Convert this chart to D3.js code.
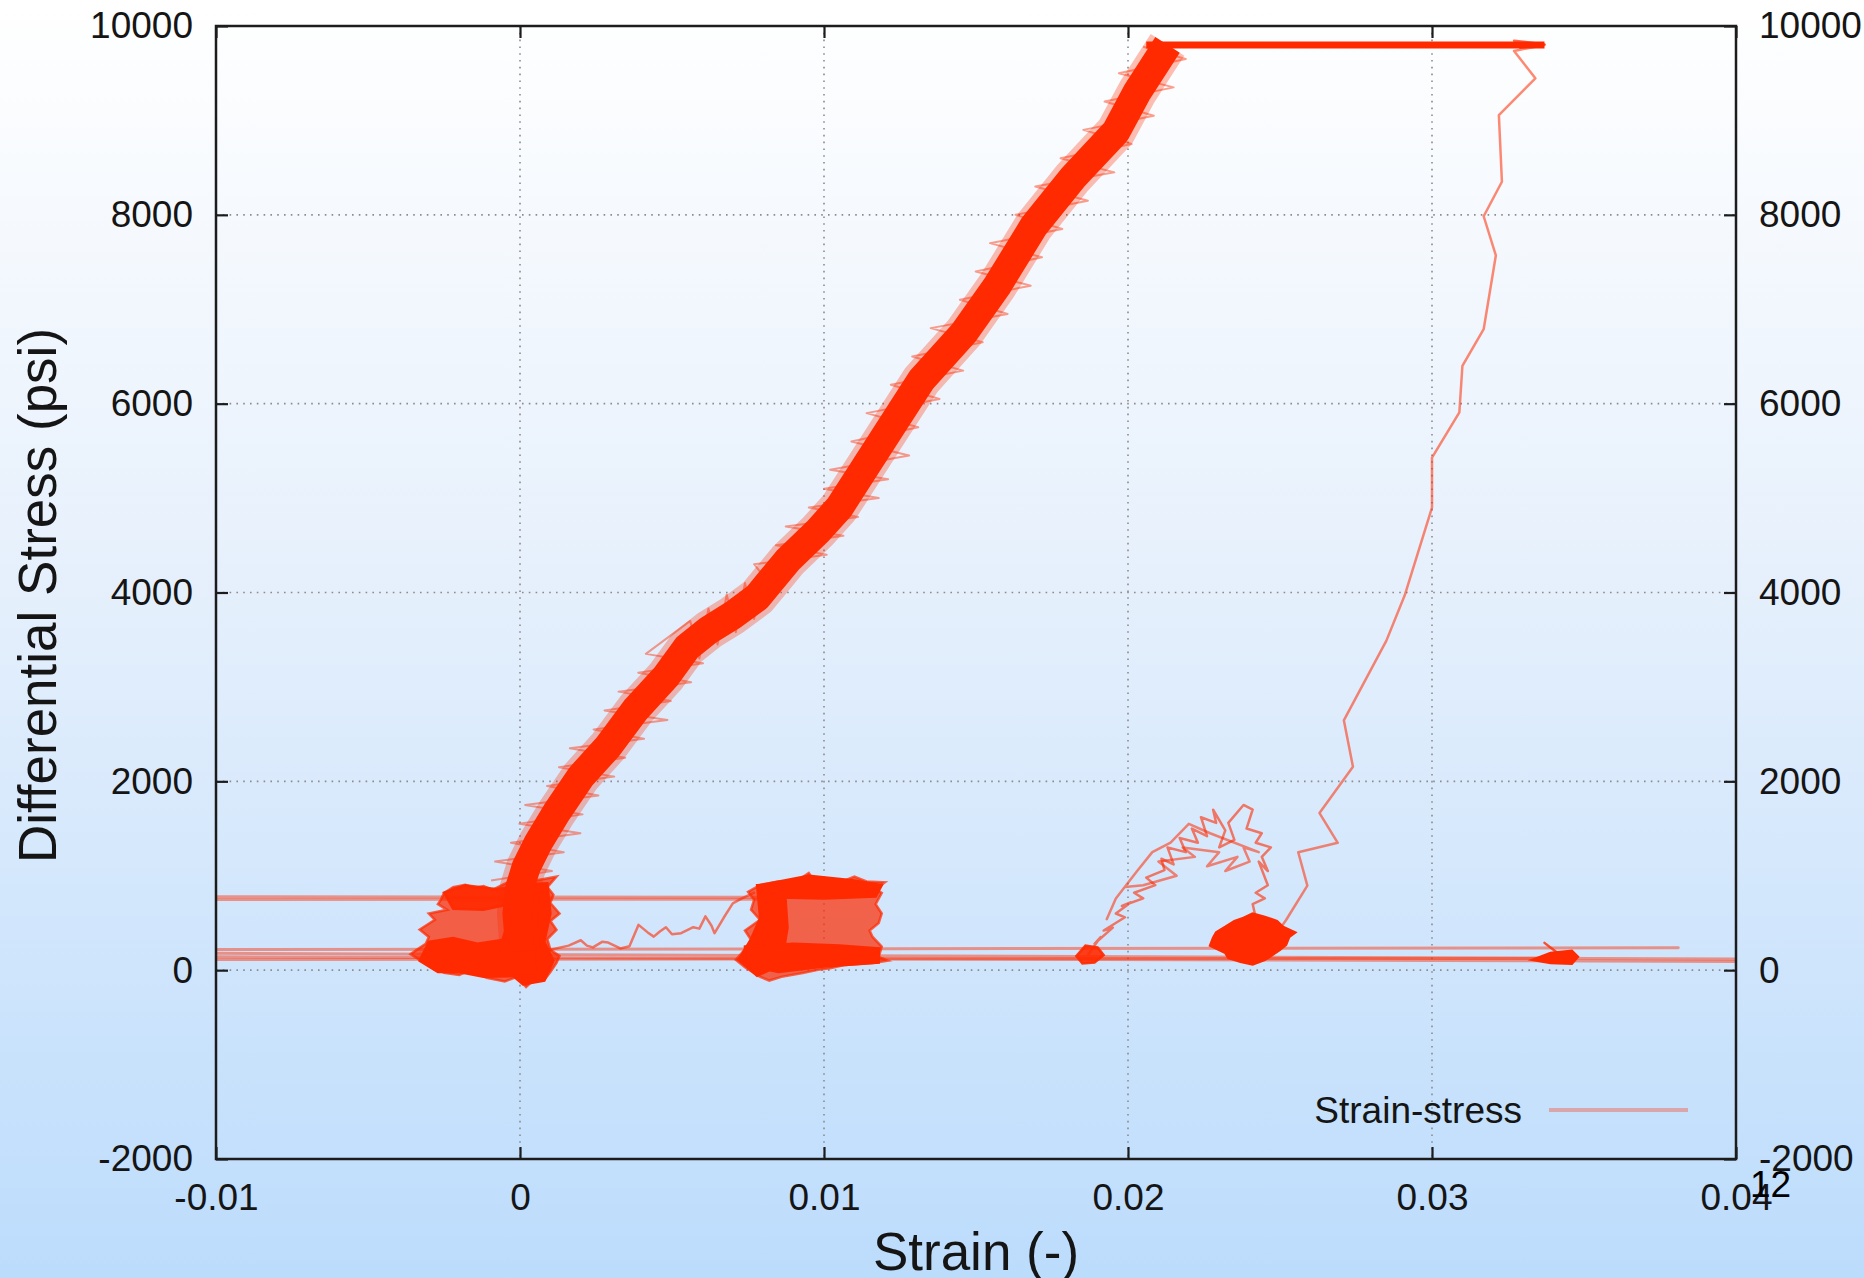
<!DOCTYPE html>
<html>
<head>
<meta charset="utf-8">
<script src="https://cdn.jsdelivr.net/npm/d3@7"></script>
<style>
html, body { margin: 0; padding: 0; }
body { width: 1864px; height: 1278px; overflow: hidden; }
text { font-family: "Liberation Sans", Arial, Helvetica, sans-serif; fill: #151515; }
</style>
</head>
<body>
<svg id="chart" width="1864" height="1278"></svg>
<script>
// axis ticks
const xTicks = [-0.01, 0, 0.01, 0.02, 0.03, 0.04];
const xTickLabels = ['-0.01', '0', '0.01', '0.02', '0.03', '0.04'];
const yTicks = [-2000, 0, 2000, 4000, 6000, 8000, 10000];
const yTickLabels = ['-2000', '0', '2000', '4000', '6000', '8000', '10000'];

// strain (-), differential stress (psi)
const loadingCurve = [[0.0000, 200], [-0.0001, 600], [0.0000, 880], [0.0002, 1090], [0.0006, 1350], [0.0012, 1670],
    [0.0020, 2050], [0.0029, 2370], [0.0038, 2760], [0.0048, 3110], [0.0055, 3420], [0.0062, 3600], [0.0070, 3760],
    [0.0078, 3950], [0.0088, 4340], [0.0098, 4650], [0.0105, 4900], [0.0112, 5250], [0.0122, 5750], [0.0132, 6250],
    [0.0146, 6750], [0.0157, 7250], [0.0169, 7880], [0.0182, 8400], [0.0196, 8880], [0.0203, 9300], [0.0210, 9650],
    [0.0213, 9800]];
// the noisy scatter of the same loading trace around its centre
const loadingNoise = [[-0.00095, 950], [0.00105, 1050], [-0.00082, 1150], [0.00144, 1250], [-0.0003, 1350],
    [0.00199, 1450], [-0.00002, 1550], [0.00206, 1650], [0.00017, 1750], [0.00258, 1850], [0.00089, 1950],
    [0.0031, 2050], [0.00128, 2150], [0.00346, 2250], [0.00164, 2350], [0.00408, 2450], [0.00242, 2550],
    [0.00485, 2650], [0.00278, 2750], [0.00496, 2850], [0.00324, 2950], [0.00563, 3050], [0.00389, 3150],
    [0.00602, 3250], [0.00414, 3350], [0.0056, 3700], [0.0059, 3300], [0.0062, 3830], [0.0065, 3450],
    [0.0068, 3980], [0.0071, 3580], [0.0074, 4100], [0.0077, 3720], [0.0080, 4180], [0.0077, 4300],
    [0.01009, 4400], [0.00842, 4500], [0.01064, 4600], [0.00874, 4700], [0.01112, 4800], [0.0095, 4900],
    [0.0118, 5000], [0.0100, 5100], [0.01211, 5200], [0.0102, 5300], [0.0128, 5450], [0.0109, 5600],
    [0.0131, 5750], [0.0114, 5900], [0.0138, 6050], [0.0122, 6200], [0.01458, 6350], [0.0129, 6500],
    [0.01522, 6650], [0.01351, 6800], [0.01604, 6950], [0.01447, 7100], [0.0168, 7250], [0.01499, 7400],
    [0.01717, 7550], [0.01546, 7700], [0.01784, 7850], [0.0163, 8000], [0.01868, 8150], [0.01695, 8300],
    [0.01955, 8450], [0.01778, 8600], [0.02012, 8750], [0.01853, 8900], [0.02085, 9050], [0.01923, 9200],
    [0.0215, 9350], [0.0197, 9500], [0.0219, 9650], [0.0205, 9780]];
const plateau = [[0.0206, 9800], [0.0337, 9800]];
const plateauHook = [[0.0327, 9845], [0.0337, 9805], [0.0329, 9770]];
const unloadCurve = [[0.0337, 9799], [0.0327, 9736], [0.0334, 9446], [0.0322, 9056], [0.0323, 8350], [0.0317, 7985],
    [0.0321, 7570], [0.0317, 6789], [0.0310, 6399], [0.0309, 5908], [0.0300, 5429], [0.0300, 4900], [0.0291, 3968],
    [0.0285, 3490], [0.0271, 2646], [0.0274, 2155], [0.0263, 1664], [0.0269, 1349], [0.0256, 1249], [0.0259, 896],
    [0.0252, 531], [0.0249, 392]];
const upperReturnA = [[-0.01, 778], [0.0082, 772]];
const upperReturnB = [[-0.01, 748], [0.0080, 752]];
const bundleA = [[-0.01, 218], [0.0381, 238]];
const bundleB = [[-0.01, 178], [0.04, 118]];
const bundleC = [[-0.01, 142], [0.04, 92]];
const bundleD = [[-0.01, 112], [0.0345, 128]];
const wanderPath = [[0.0010, 216], [0.0016, 260], [0.0020, 317], [0.0022, 260], [0.0024, 241], [0.0027, 300],
    [0.0029, 292], [0.0033, 230], [0.0036, 254], [0.0039, 480], [0.0042, 400], [0.0044, 355], [0.0046, 410],
    [0.0048, 455], [0.0050, 380], [0.0053, 392], [0.0057, 455], [0.0059, 440], [0.0061, 570], [0.0063, 470],
    [0.0064, 392], [0.0067, 555], [0.0070, 707], [0.0073, 760], [0.0077, 820]];
const humpPath = [[0.0187, 170], [0.0191, 350], [0.0189, 280], [0.0195, 450], [0.0192, 420], [0.0199, 560],
    [0.0196, 600], [0.0201, 720], [0.0198, 680], [0.0205, 760], [0.0202, 820], [0.0209, 900], [0.0206, 980],
    [0.0212, 1060], [0.0211, 1180], [0.0215, 1120], [0.0213, 1300], [0.0219, 1250], [0.0217, 1400], [0.0223, 1350],
    [0.0221, 1500], [0.0226, 1420], [0.0224, 1620], [0.0229, 1560], [0.0228, 1700], [0.0232, 1480], [0.0230, 1300],
    [0.0235, 1380], [0.0233, 1560], [0.0238, 1750], [0.0241, 1700], [0.0239, 1500], [0.0244, 1450], [0.0242, 1350],
    [0.0247, 1300], [0.0244, 1200], [0.0246, 1050], [0.0243, 1150], [0.0246, 900], [0.0242, 820], [0.0245, 760],
    [0.0241, 700], [0.0242, 560]];
const humpPath2 = [[0.0199, 880], [0.0205, 900], [0.0216, 1000], [0.0210, 1150], [0.0222, 1200], [0.0218, 1300],
    [0.0230, 1250], [0.0226, 1100], [0.0236, 1200], [0.0232, 1050], [0.0240, 1150], [0.0238, 1300], [0.0243, 1250],
    [0.0227, 1450], [0.0220, 1550], [0.0214, 1350], [0.0208, 1250], [0.0203, 1050], [0.0196, 760], [0.0193, 540]];

// blobs (outlines of dense noisy clusters)
const leftBlobOuter = [[-0.0025, 818], [-0.0022, 880], [-0.0018, 903], [-0.0015, 870], [-0.0012, 890], [-0.0009, 850],
    [-0.0006, 900], [-0.0004, 930], [-0.0001, 956], [0.0003, 920], [0.0006, 956], [0.0012, 990], [0.0009, 880],
    [0.0011, 800], [0.0010, 712], [0.0013, 600], [0.0010, 520], [0.0012, 427], [0.0009, 330], [0.0010, 215],
    [0.0013, 150], [0.0012, 77], [0.0010, -20], [0.0008, -103], [0.0005, -90], [0.0002, -177], [-0.0001, -71],
    [-0.0005, -120], [-0.0011, -82], [-0.0014, -40], [-0.0016, 3], [-0.0020, -50], [-0.0025, -29], [-0.0030, 60],
    [-0.0033, 109], [-0.0036, 170], [-0.0034, 215], [-0.0031, 280], [-0.0030, 352], [-0.0033, 430], [-0.0028, 533],
    [-0.0030, 600], [-0.0024, 639], [-0.0027, 700], [-0.0026, 745]];
const leftBlobCore = [[-0.0004, 900], [0.0009, 920], [0.0010, 600], [0.0008, 300], [0.0011, 100], [0.0008, -110],
    [0.0001, -150], [-0.0003, -40], [-0.0006, 300], [-0.0003, 600]];
const leftBlobBottom = [[-0.0033, 100], [-0.0030, 300], [-0.0022, 340], [-0.0014, 280], [-0.0006, 320], [0.0005, 260],
    [0.0006, -60], [-0.0012, -70], [-0.0020, -20], [-0.0027, -20]];
const leftBlobTop = [[-0.0025, 820], [-0.0018, 900], [-0.0008, 860], [-0.0002, 880], [-0.0003, 700], [-0.0012, 640],
    [-0.0022, 650]];
const midBlobOuter = [[0.0079, 903], [0.0085, 940], [0.0090, 920], [0.0095, 1030], [0.0097, 935], [0.0102, 960],
    [0.0106, 940], [0.0110, 990], [0.0114, 940], [0.0120, 930], [0.0117, 860], [0.0119, 818], [0.0117, 700],
    [0.0119, 600], [0.0118, 500], [0.0115, 420], [0.0116, 352], [0.0119, 250], [0.0118, 140], [0.0121, 100],
    [0.0116, 77], [0.0107, 56], [0.0102, 20], [0.0098, 3], [0.0093, -30], [0.0086, -71], [0.0082, -110],
    [0.0079, -71], [0.0074, 30], [0.0071, 109], [0.0074, 220], [0.0076, 321], [0.0074, 420], [0.0079, 533],
    [0.0076, 640], [0.0077, 745], [0.0075, 830]];
const midBlobLeft = [[0.0078, 900], [0.0087, 920], [0.0088, 450], [0.0086, 60], [0.0078, -60], [0.0072, 110],
    [0.0076, 330], [0.0079, 550]];
const midBlobTop = [[0.0079, 900], [0.0095, 1000], [0.0110, 950], [0.0119, 900], [0.0117, 780], [0.0100, 760],
    [0.0085, 770]];
const midBlobBottom = [[0.0074, 250], [0.0090, 280], [0.0105, 260], [0.0118, 230], [0.0118, 80], [0.0100, 40],
    [0.0085, -20], [0.0074, 60]];
const rightBlob = [[0.0232, 458], [0.0235, 520], [0.0238, 554], [0.0241, 600], [0.0245, 565], [0.0249, 520],
    [0.0251, 458], [0.0255, 400], [0.0253, 352], [0.0252, 270], [0.0250, 215], [0.0247, 150], [0.0245, 109],
    [0.0241, 60], [0.0237, 88], [0.0233, 130], [0.0232, 183], [0.0227, 260], [0.0228, 342], [0.0229, 400]];
const farRightBlob = [[0.0333, 109], [0.0339, 183], [0.0346, 204], [0.0348, 141], [0.0346, 67], [0.0339, 77]];
const farRightSpike = [[0.0337, 289], [0.0341, 190]];
const smallBlob = [[0.0183, 150], [0.0186, 260], [0.0190, 240], [0.0192, 160], [0.0189, 80], [0.0185, 70]];

const W = 1864, H = 1278;
const margin = { left: 216, right: 128, top: 26, bottom: 119 };
const red = '#ff2a00';

const svg = d3.select('#chart');

const x = d3.scaleLinear().domain([-0.01, 0.04]).range([margin.left, W - margin.right]);
const y = d3.scaleLinear().domain([-2000, 10000]).range([H - margin.bottom, margin.top]);

// background gradient
const defs = svg.append('defs');
const grad = defs.append('linearGradient').attr('id', 'bg').attr('x1', 0).attr('y1', 0).attr('x2', 0).attr('y2', 1);
grad.append('stop').attr('offset', '0%').attr('stop-color', '#ffffff');
grad.append('stop').attr('offset', '45%').attr('stop-color', '#e6f0fc');
grad.append('stop').attr('offset', '100%').attr('stop-color', '#bcdcfc');
svg.append('rect').attr('width', W).attr('height', H).attr('fill', 'url(#bg)');

defs.append('clipPath').attr('id', 'plotClip')
    .append('rect')
    .attr('x', x(-0.01)).attr('y', y(10000))
    .attr('width', x(0.04) - x(-0.01)).attr('height', y(-2000) - y(10000));

// grid
const grid = svg.append('g').attr('stroke', '#8c8c8c').attr('stroke-width', 1.6).attr('stroke-dasharray', '1.6,5.2');
grid.selectAll('.gx').data(xTicks.slice(1, -1)).enter().append('line')
    .attr('x1', d => x(d)).attr('x2', d => x(d)).attr('y1', y(10000)).attr('y2', y(-2000));
grid.selectAll('.gy').data(yTicks.slice(1, -1)).enter().append('line')
    .attr('y1', d => y(d)).attr('y2', d => y(d)).attr('x1', x(-0.01)).attr('x2', x(0.04));

const line = d3.line().x(d => x(d[0])).y(d => y(d[1]));
const shape = d3.line().x(d => x(d[0])).y(d => y(d[1])).curve(d3.curveLinearClosed);

const plot = svg.append('g').attr('clip-path', 'url(#plotClip)');

function thin(data, w, op, cap) {
    plot.append('path').datum(data).attr('d', line)
        .attr('fill', 'none').attr('stroke', red)
        .attr('stroke-width', w).attr('stroke-opacity', op)
        .attr('stroke-linejoin', 'round').attr('stroke-linecap', cap || 'round');
}
function blob(data, op) {
    plot.append('path').datum(data).attr('d', shape)
        .attr('fill', red).attr('fill-opacity', op)
        .attr('stroke', red).attr('stroke-opacity', op).attr('stroke-width', 2.5)
        .attr('stroke-linejoin', 'miter');
}

// horizontal return lines
[upperReturnA, upperReturnB, bundleA, bundleB, bundleC, bundleD].forEach(d => thin(d, 3, 0.45));

// unloading path and wandering segments
thin(unloadCurve, 2.5, 0.55);
thin(wanderPath, 2.5, 0.6);
thin(humpPath, 2.5, 0.6);
thin(humpPath2, 2.5, 0.55);

// clusters
blob(leftBlobOuter, 0.72);
blob(leftBlobCore, 1);
blob(leftBlobBottom, 1);
blob(leftBlobTop, 0.9);
blob(midBlobOuter, 0.7);
blob(midBlobLeft, 1);
blob(midBlobTop, 1);
blob(midBlobBottom, 1);
blob(rightBlob, 1);
blob(farRightBlob, 1);
blob(smallBlob, 0.9);
thin(farRightSpike, 2.5, 0.8);

// main loading band: soft halo, faint scatter, solid core
thin(loadingCurve, 40, 0.3, 'butt');
thin(loadingNoise, 2, 0.45, 'butt');
thin(loadingCurve, 29, 1, 'butt');
thin(plateau, 7, 1, 'butt');
thin(plateauHook, 2.5, 0.7);

// frame
svg.append('rect')
    .attr('x', x(-0.01)).attr('y', y(10000))
    .attr('width', x(0.04) - x(-0.01)).attr('height', y(-2000) - y(10000))
    .attr('fill', 'none').attr('stroke', '#1c1c1c').attr('stroke-width', 2.5);

// axes with inward ticks
function styleAxis(g) {
    g.select('.domain').remove();
    g.attr('font-size', 37).attr('font-family', '"Liberation Sans", Arial, sans-serif').attr('color', '#1c1c1c');
    g.selectAll('.tick line').attr('stroke-width', 2.2);
    g.selectAll('.tick text').attr('fill', '#151515');
}
svg.append('g').attr('transform', `translate(0,${y(-2000)})`)
    .call(d3.axisBottom(x).tickValues(xTicks).tickFormat((d, i) => xTickLabels[i]).tickSizeInner(-12).tickSizeOuter(0).tickPadding(25))
    .call(styleAxis);
svg.append('g').attr('transform', `translate(0,${y(10000)})`)
    .call(d3.axisTop(x).tickValues(xTicks).tickFormat('').tickSizeInner(-12).tickSizeOuter(0))
    .call(styleAxis);
svg.append('g').attr('transform', `translate(${x(-0.01)},0)`)
    .call(d3.axisLeft(y).tickValues(yTicks).tickFormat((d, i) => yTickLabels[i]).tickSizeInner(-12).tickSizeOuter(0).tickPadding(23))
    .call(styleAxis);
svg.append('g').attr('transform', `translate(${x(0.04)},0)`)
    .call(d3.axisRight(y).tickValues(yTicks).tickFormat((d, i) => yTickLabels[i]).tickSizeInner(-12).tickSizeOuter(0).tickPadding(23))
    .call(styleAxis);

// axis titles
svg.append('text')
    .attr('x', (x(-0.01) + x(0.04)) / 2).attr('y', 1270)
    .attr('text-anchor', 'middle').attr('font-size', 53)
    .text('Strain (-)');
svg.append('text')
    .attr('transform', `translate(56,${(y(-2000) + y(10000)) / 2 + 3}) rotate(-90)`)
    .attr('text-anchor', 'middle').attr('font-size', 53)
    .text('Differential Stress (psi)');

// legend
svg.append('text')
    .attr('x', 1522).attr('y', 1123)
    .attr('text-anchor', 'end').attr('font-size', 37)
    .text('Strain-stress');
svg.append('line')
    .attr('x1', 1549).attr('x2', 1688).attr('y1', 1110).attr('y2', 1110)
    .attr('stroke', red).attr('stroke-opacity', 0.32).attr('stroke-width', 4);

// page number overlay
svg.append('text')
    .attr('x', 1750).attr('y', 1197)
    .attr('font-size', 37).attr('font-family', '"DejaVu Sans", sans-serif')
    .style('fill', '#000')
    .text('12');
</script>
</body>
</html>
